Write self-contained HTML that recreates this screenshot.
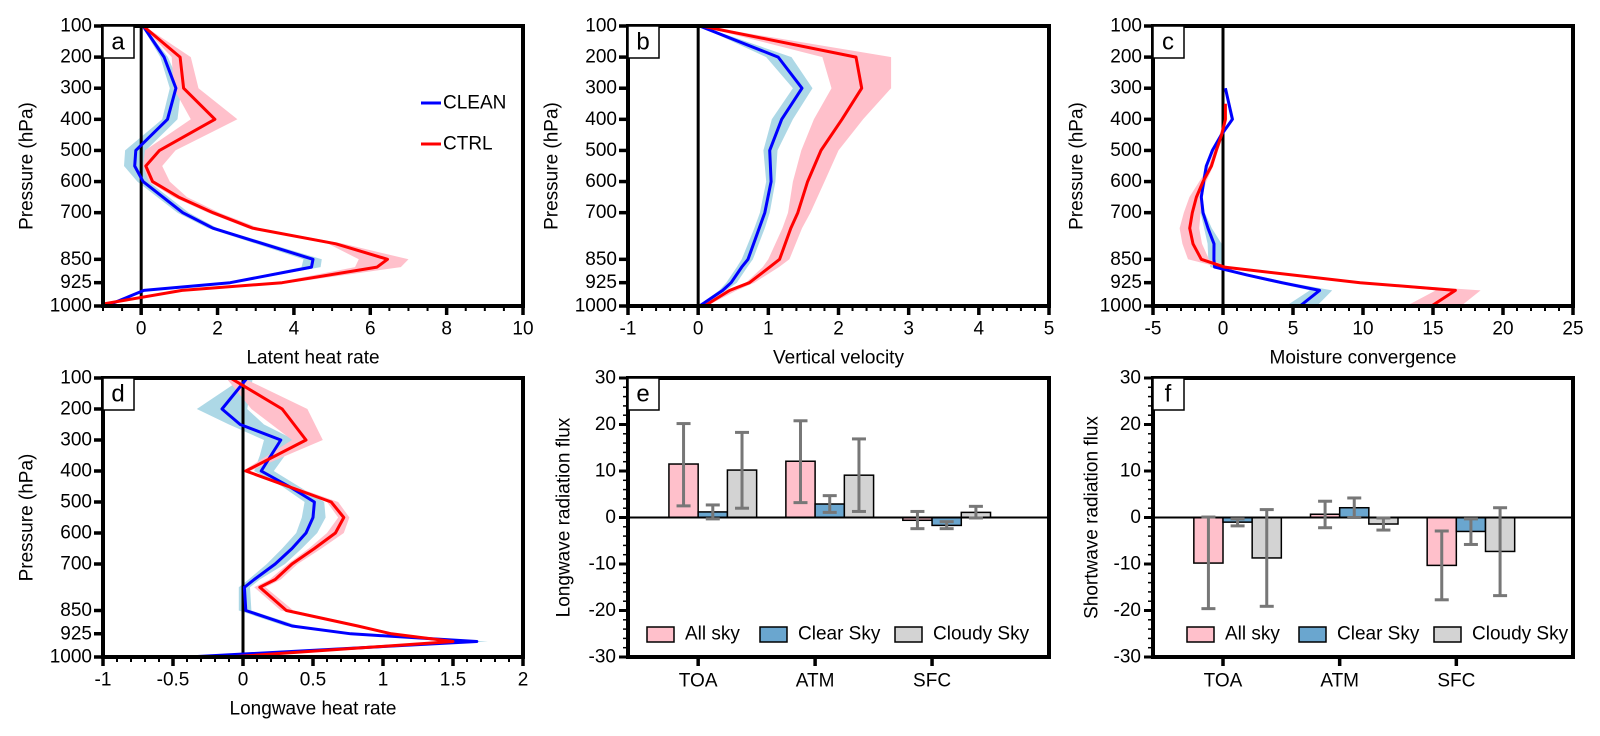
<!DOCTYPE html>
<html><head><meta charset="utf-8"><style>
html,body{margin:0;padding:0;background:#fff;}
svg{display:block;font-family:"Liberation Sans",Arial,sans-serif;}
</style></head><body>
<svg id="fig" width="1600" height="736" viewBox="0 0 1600 736" xmlns="http://www.w3.org/2000/svg"></svg>
<script>
// ---------- Data ----------
const aCleanP=[100,200,300,400,500,550,600,700,750,850,875,925,950,1000];
const aCleanV=[0.05,0.6,0.91,0.69,-0.14,-0.17,0.05,1.09,1.88,4.5,4.46,2.33,0.07,-0.92];
const aCleanLo=[0.02,0.5,0.75,0.55,-0.42,-0.45,-0.1,0.95,1.75,4.25,4.2,2.25,0.0,-1.0];
const aCleanHi=[0.08,0.7,1.05,0.95,0.12,0.1,0.2,1.25,2.0,4.73,4.7,2.45,0.15,-0.85];
const aCtrlP=[100,200,300,400,500,550,600,650,700,750,800,850,875,925,950,1000];
const aCtrlV=[0.05,1.02,1.11,1.93,0.48,0.12,0.3,0.98,1.88,2.92,5.1,6.45,6.18,3.69,1.07,-1.3];
const aCtrlLo=[0.03,0.8,0.85,1.3,0.1,0.05,0.2,0.85,1.75,2.8,4.9,5.7,5.6,3.5,1.0,-1.35];
const aCtrlHi=[0.08,1.3,1.5,2.52,0.9,0.55,0.75,1.2,2.05,3.1,5.3,7.0,6.8,3.9,1.15,-1.2];
const bP=[100,200,300,400,500,600,700,750,850,875,925,950,1000];
const bCleanV=[0.02,1.14,1.48,1.19,1.02,1.04,0.95,0.87,0.71,0.62,0.47,0.35,0.02];
const bCleanLo=[0.01,0.97,1.35,1.05,0.93,0.97,0.88,0.8,0.62,0.55,0.4,0.3,0.0];
const bCleanHi=[0.04,1.33,1.63,1.35,1.13,1.1,1.02,0.95,0.78,0.7,0.55,0.4,0.05];
const bCtrlV=[0.05,2.25,2.33,2.05,1.75,1.56,1.42,1.32,1.16,1.02,0.73,0.45,0.09];
const bCtrlLo=[0.02,1.77,1.9,1.65,1.47,1.35,1.28,1.2,1.0,0.92,0.68,0.4,0.05];
const bCtrlHi=[0.08,2.75,2.75,2.35,2.0,1.8,1.6,1.48,1.3,1.15,0.8,0.55,0.12];
const cCleanP=[300,400,450,500,550,600,650,700,750,800,850,875,900,925,950,1000];
const cCleanV=[0.17,0.67,-0.12,-0.76,-1.19,-1.38,-1.55,-1.43,-1.07,-0.64,-0.65,-0.6,1.7,4.2,6.9,5.5];
const cCleanLo=[0.1,0.55,-0.2,-0.85,-1.3,-1.5,-1.65,-1.6,-1.35,-1.1,-1.05,-0.9,1.3,3.7,6.2,4.5];
const cCleanHi=[0.25,0.8,0.0,-0.65,-1.05,-1.25,-1.45,-1.3,-0.8,-0.1,-0.05,-0.2,2.1,4.8,7.8,6.7];
const cCtrlP=[350,400,450,500,550,600,650,700,750,800,850,875,925,950,1000];
const cCtrlV=[0.17,0.17,-0.1,-0.48,-0.83,-1.43,-1.9,-2.19,-2.38,-2.14,-1.55,0.1,9.8,16.6,14.9];
const cCtrlLo=[0.1,0.05,-0.25,-0.65,-1.0,-1.7,-2.4,-2.8,-3.1,-2.9,-2.5,-0.3,9.0,15.2,13.1];
const cCtrlHi=[0.25,0.3,0.05,-0.35,-0.7,-1.2,-1.5,-1.6,-1.7,-1.5,-1.0,0.5,10.6,18.4,17.0];
const dCleanP=[100,200,250,300,350,400,450,500,550,600,650,700,750,775,850,900,925,950,1000];
const dCleanV=[0.03,-0.15,-0.02,0.27,0.2,0.13,0.33,0.51,0.5,0.45,0.35,0.23,0.08,0.01,0.02,0.35,0.77,1.67,-0.39];
const dCleanLo=[0.0,-0.33,-0.1,0.15,0.12,0.08,0.28,0.44,0.42,0.38,0.28,0.17,0.04,-0.03,-0.03,0.3,0.72,1.6,-0.45];
const dCleanHi=[0.07,0.03,0.15,0.37,0.3,0.22,0.4,0.58,0.59,0.53,0.42,0.3,0.12,0.05,0.06,0.4,0.82,1.75,-0.35];
const dCtrlP=[100,200,300,400,500,550,600,650,700,750,775,850,900,925,950,1000];
const dCtrlV=[-0.09,0.28,0.45,0.02,0.63,0.72,0.66,0.51,0.35,0.23,0.12,0.31,0.82,1.06,1.5,-0.1];
const dCtrlLo=[-0.12,0.06,0.35,0.0,0.6,0.68,0.6,0.47,0.32,0.19,0.08,0.27,0.78,1.02,1.45,-0.15];
const dCtrlHi=[0.0,0.46,0.57,0.05,0.68,0.76,0.72,0.56,0.39,0.27,0.16,0.36,0.86,1.1,1.6,-0.05];
const barCategories=["TOA","ATM","SFC"];
const barSeries=["All sky","Clear Sky","Cloudy Sky"];
const eAll=[11.5,12.1,-0.6], eAllLo=[2.5,3.2,-2.4], eAllHi=[20.2,20.8,1.3];
const eClear=[1.2,2.9,-1.7], eClearLo=[-0.3,1.1,-2.4], eClearHi=[2.7,4.7,-0.9];
const eCloudy=[10.2,9.1,1.1], eCloudyLo=[2.0,1.3,-0.1], eCloudyHi=[18.3,16.9,2.4];
const fAll=[-9.8,0.7,-10.3], fAllLo=[-19.6,-2.2,-17.7], fAllHi=[0.1,3.5,-2.9];
const fClear=[-1.0,2.1,-3.0], fClearLo=[-1.8,0.0,-5.8], fClearHi=[-0.3,4.2,-0.3];
const fCloudy=[-8.7,-1.4,-7.3], fCloudyLo=[-19.1,-2.7,-16.8], fCloudyHi=[1.7,-0.1,2.1];
const pressureTicks=[100,200,300,400,500,600,700,850,925,1000];
const barYTicks=[-30,-20,-10,0,10,20,30];

// ---------- Helpers ----------
const NS="http://www.w3.org/2000/svg";
const svg=document.getElementById('fig');
const FS=19;
function mk(tag,attrs,parent){const e=document.createElementNS(NS,tag);for(const k in attrs)e.setAttribute(k,attrs[k]);(parent||svg).appendChild(e);return e;}
function txt(x,y,s,size,anchor,parent,extra){const t=mk('text',Object.assign({x:x,y:y,'font-size':size,'text-anchor':anchor||'middle','dominant-baseline':'central',fill:'#000'},extra||{}),parent);t.textContent=s;return t;}
const COLS=[[103,523],[628,1049],[1153,1573]];
const ROWS=[[26,306],[378,657]];

function profilePanel(id,col,row,xmin,xmax,majorStep,minorStep,tickLabels,xTitle,series,legend){
  const [L,R]=COLS[col],[T,B]=ROWS[row];
  const g=mk('g',{});
  
  
  const sx=v=>L+(v-xmin)/(xmax-xmin)*(R-L);
  const sy=p=>T+(p-100)/900*(B-T);
  const cid='clip-'+id;
  const cp=mk('clipPath',{id:cid},g);mk('rect',{x:L,y:T,width:R-L,height:B-T},cp);
  const plot=mk('g',{'clip-path':'url(#'+cid+')'},g);
  series.forEach(s=>{
    let d='';
    s.p.forEach((p,i)=>{d+=(i?'L':'M')+sx(s.lo[i]).toFixed(1)+','+sy(p).toFixed(1);});
    for(let i=s.p.length-1;i>=0;i--)d+='L'+sx(s.hi[i]).toFixed(1)+','+sy(s.p[i]).toFixed(1);
    const sh=mk('path',{d:d+'Z',fill:s.shade,stroke:'none'},plot);
    
    
  });
  const z=mk('line',{x1:sx(0),x2:sx(0),y1:T,y2:B,stroke:'#000','stroke-width':3},plot);
  
  
  series.forEach(s=>{
    const pts=s.p.map((p,i)=>sx(s.v[i]).toFixed(1)+','+sy(p).toFixed(1)).join(' ');
    const ln=mk('polyline',{points:pts,fill:'none',stroke:s.color,'stroke-width':3,'stroke-linejoin':'round'},plot);
    
    
  });
  const fr=mk('rect',{x:L,y:T,width:R-L,height:B-T,fill:'none',stroke:'#000','stroke-width':4},g);
  
  
  for(let v=xmin;v<=xmax+1e-9;v+=minorStep){const vv=Math.round(v*1000)/1000;const maj=Math.abs(vv/majorStep-Math.round(vv/majorStep))<1e-6;
    mk('line',{x1:sx(vv),x2:sx(vv),y1:B,y2:B+(maj?9:5),stroke:'#000','stroke-width':maj?3.5:2},g);}
  tickLabels.forEach(v=>{const t=txt(sx(v),B+23,String(v),FS,'middle',g);
    
    });
  pressureTicks.forEach(p=>{mk('line',{x1:L-9,x2:L,y1:sy(p),y2:sy(p),stroke:'#000','stroke-width':3.5},g);
    const t=txt(L-11,sy(p),String(p),FS,'end',g);
    
    });
  const xt=txt((L+R)/2,B+52,xTitle,FS,'middle',g);
  
  
  const yx=L-76,yc=(T+B)/2;
  const yt=txt(yx,yc,'Pressure (hPa)',FS,'middle',g,{transform:'rotate(-90 '+yx+' '+yc+')'});
  
  
  const lb=mk('rect',{x:L,y:T,width:31,height:32,fill:'#fff',stroke:'#000','stroke-width':1.5},g);
  
  
  const lt=txt(L+15,T+16,id,24,'middle',g);
  
  
  if(legend){
    [['CLEAN','blue',103],['CTRL','red',144]].forEach(([n,c,y])=>{
      const le=mk('g',{},g);
      
      
      mk('line',{x1:421,x2:441,y1:y,y2:y,stroke:c,'stroke-width':3},le);
      txt(443,y,n,FS,'start',le);
    });
  }
}

function barPanel(id,col,row,yTitle,vals,los,his){
  const [L,R]=COLS[col],[T,B]=ROWS[row];
  const g=mk('g',{});
  
  
  const sx=v=>L+(v-0.4)/3.6*(R-L);
  const sy=v=>T+(30-v)/60*(B-T);
  const colors=['#ffc0cb','#6aa6cf','#d3d3d3'];
  const offs=[-0.25,0,0.25];
  barCategories.forEach((cat,ci)=>{
    vals.forEach((arr,si)=>{
      const v=arr[ci];const x0=sx(ci+1+offs[si]),x1=sx(ci+1+offs[si]+0.25);
      const y0=sy(Math.max(v,0)),y1=sy(Math.min(v,0));
      const b=mk('rect',{x:x0,y:y0,width:x1-x0,height:Math.max(y1-y0,1),fill:colors[si],stroke:'#000','stroke-width':1.5},g);
      
      
    });
  });
  const z=mk('line',{x1:L,x2:R,y1:sy(0),y2:sy(0),stroke:'#000','stroke-width':2},g);
  
  
  barCategories.forEach((cat,ci)=>{
    vals.forEach((arr,si)=>{
      const xc=sx(ci+1+offs[si]+0.125);
      const eg=mk('g',{stroke:'#777','stroke-width':3},g);
      
      
      mk('line',{x1:xc,x2:xc,y1:sy(los[si][ci]),y2:sy(his[si][ci])},eg);
      mk('line',{x1:xc-7,x2:xc+7,y1:sy(los[si][ci]),y2:sy(los[si][ci])},eg);
      mk('line',{x1:xc-7,x2:xc+7,y1:sy(his[si][ci]),y2:sy(his[si][ci])},eg);
    });
  });
  const fr=mk('rect',{x:L,y:T,width:R-L,height:B-T,fill:'none',stroke:'#000','stroke-width':4},g);
  
  
  for(let v=-30;v<=30;v+=2){const maj=v%10===0;mk('line',{x1:L-(maj?9:5),x2:L,y1:sy(v),y2:sy(v),stroke:'#000','stroke-width':maj?3:1.5},g);}
  barYTicks.forEach(v=>{const t=txt(L-12,sy(v),String(v),FS,'end',g);
    
    });
  barCategories.forEach((cat,ci)=>{mk('line',{x1:sx(ci+1),x2:sx(ci+1),y1:B,y2:B+9,stroke:'#000','stroke-width':3.5},g);
    const t=txt(sx(ci+1),B+24,cat,FS,'middle',g);
    
    });
  const yx=L-(id==='e'?64:61),yc=(T+B)/2;
  const yt=txt(yx,yc,yTitle,FS,'middle',g,{transform:'rotate(-90 '+yx+' '+yc+')'});
  
  
  const lb=mk('rect',{x:L,y:T,width:31,height:32,fill:'#fff',stroke:'#000','stroke-width':1.5},g);
  
  
  const lt=txt(L+15,T+16,id,24,'middle',g);
  
  
  const lx=id==='e'?[647,760,895]:[1187,1299,1434];
  barSeries.forEach((s,si)=>{
    const le=mk('g',{},g);
    
    
    mk('rect',{x:lx[si],y:627,width:27,height:15,fill:colors[si],stroke:'#000','stroke-width':1.5},le);
    txt(lx[si]+38,634,s,FS,'start',le);
  });
}

profilePanel('a',0,0,-1,10,2,0.5,[0,2,4,6,8,10],'Latent heat rate',[
  {name:'clean',p:aCleanP,v:aCleanV,lo:aCleanLo,hi:aCleanHi,color:'#0000ff',shade:'#add8e6'},
  {name:'ctrl',p:aCtrlP,v:aCtrlV,lo:aCtrlLo,hi:aCtrlHi,color:'#ff0000',shade:'#ffc0cb'}],true);
profilePanel('b',1,0,-1,5,1,0.2,[-1,0,1,2,3,4,5],'Vertical velocity',[
  {name:'clean',p:bP,v:bCleanV,lo:bCleanLo,hi:bCleanHi,color:'#0000ff',shade:'#add8e6'},
  {name:'ctrl',p:bP,v:bCtrlV,lo:bCtrlLo,hi:bCtrlHi,color:'#ff0000',shade:'#ffc0cb'}],false);
profilePanel('c',2,0,-5,25,5,1,[-5,0,5,10,15,20,25],'Moisture convergence',[
  {name:'clean',p:cCleanP,v:cCleanV,lo:cCleanLo,hi:cCleanHi,color:'#0000ff',shade:'#add8e6'},
  {name:'ctrl',p:cCtrlP,v:cCtrlV,lo:cCtrlLo,hi:cCtrlHi,color:'#ff0000',shade:'#ffc0cb'}],false);
profilePanel('d',0,1,-1,2,0.5,0.1,[-1,-0.5,0,0.5,1,1.5,2],'Longwave heat rate',[
  {name:'clean',p:dCleanP,v:dCleanV,lo:dCleanLo,hi:dCleanHi,color:'#0000ff',shade:'#add8e6'},
  {name:'ctrl',p:dCtrlP,v:dCtrlV,lo:dCtrlLo,hi:dCtrlHi,color:'#ff0000',shade:'#ffc0cb'}],false);
barPanel('e',1,1,'Longwave radiation flux',[eAll,eClear,eCloudy],[eAllLo,eClearLo,eCloudyLo],[eAllHi,eClearHi,eCloudyHi]);
barPanel('f',2,1,'Shortwave radiation flux',[fAll,fClear,fCloudy],[fAllLo,fClearLo,fCloudyLo],[fAllHi,fClearHi,fCloudyHi]);
</script>
</body></html>
